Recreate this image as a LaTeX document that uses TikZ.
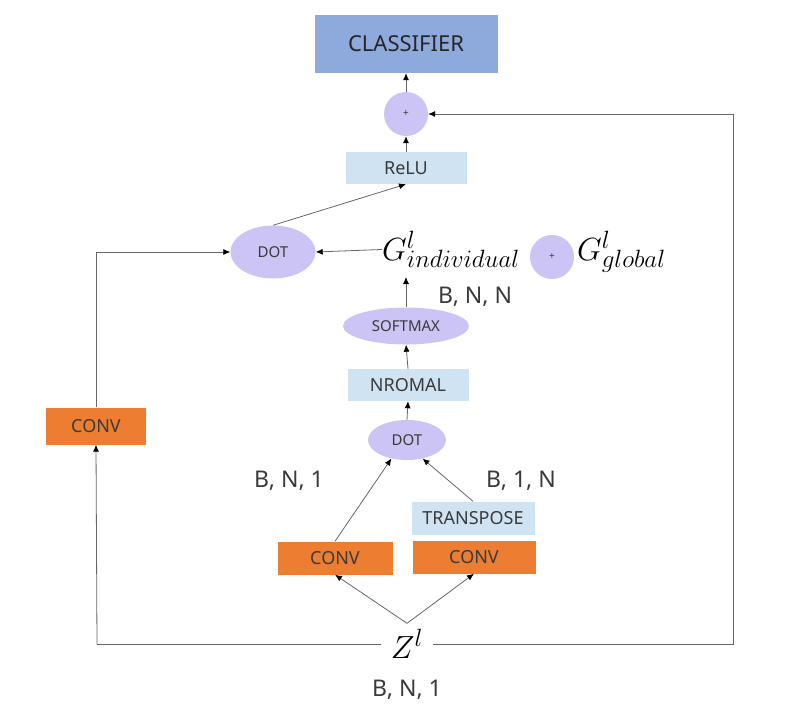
\RequirePackage{fix-cm}
\documentclass[tikz,border=0pt]{standalone}
\usepackage{fontspec}
\setmainfont{Noto Sans}
\usetikzlibrary{arrows.meta,positioning}
\usetikzlibrary{calc}
\usetikzlibrary{shapes.geometric}
\DeclareMathSizes{32}{32}{25}{20}

\definecolor{clsblue}{HTML}{8EA9DB}
\definecolor{lightblue}{HTML}{D0E3F3}
\definecolor{lavender}{HTML}{CBC4F5}
\definecolor{convorange}{HTML}{ED7D31}
\definecolor{txtgray}{HTML}{3A3A3A}
\definecolor{linegray}{HTML}{666666}

\begin{document}
\begin{tikzpicture}[x=1pt,y=-1pt,
      mybox/.style={
         rectangle,
         inner sep=0pt,
         text=txtgray,
         font=\fontsize{18}{20}\selectfont},
      convbox/.style={mybox, fill=convorange, minimum height=33pt},
      bluebox/.style={mybox, fill=lightblue, minimum height=32pt},
      myellipse/.style={
         ellipse,
         fill=lavender,
         inner sep=0pt,
         text=txtgray,
         font=\fontsize{15}{17}\selectfont},
      pluscircle/.style={
         circle,
         fill=lavender,
         minimum size=44pt,
         inner sep=0pt,
         text=txtgray,
         font=\fontsize{10}{12}\selectfont},
      dimlabel/.style={text=txtgray, font=\fontsize{23}{26}\selectfont},
      mathlabel/.style={inner sep=0pt, font=\fontsize{32}{36}\selectfont},
      myarrow/.style={-{Latex[length=7pt,width=6pt,color=black]}, draw=linegray, line width=0.8pt},
      myline/.style={draw=linegray, line width=0.8pt}
      ]
      \useasboundingbox (0,0) rectangle (809,723);

      \node[mybox, fill=clsblue, minimum width=183pt, minimum height=58pt,
            font=\fontsize{22}{24}\selectfont, text=black!85] (cls) at (406,44) {CLASSIFIER};
      \node[pluscircle] (plus1) at (406,114) {+};
      \node[bluebox, minimum width=121pt] (relu) at (406,168) {ReLU};
      \node[myellipse, minimum width=85pt, minimum height=53pt] (dot1) at (273,252) {DOT};
      \node[mathlabel, anchor=base west] (gind) at (382,260) {$G^{l}_{individual}$};
      \node[pluscircle] (plus2) at (552,257) {+};
      \node[mathlabel, anchor=base west] (gglb) at (577,260) {$G^{l}_{global}$};
      \node[dimlabel] (bnn) at (475,297) {B, N, N};
      \node[myellipse, minimum width=126pt, minimum height=37pt] (soft) at (406,326) {SOFTMAX};
      \node[bluebox, minimum width=121pt] (norm) at (408,385) {NROMAL};
      \node[myellipse, minimum width=78pt, minimum height=40pt] (dot2) at (407,440) {DOT};
      \node[dimlabel] (bn1) at (289,481) {B, N, 1};
      \node[dimlabel] (b1n) at (521,481) {B, 1, N};
      \node[bluebox, minimum width=123pt, minimum height=33pt] (trans) at (473,518) {TRANSPOSE};
      \node[convbox, minimum width=115pt] (conv1) at (335,558) {CONV};
      \node[convbox, minimum width=123pt] (conv2) at (474,557) {CONV};
      \node[convbox, minimum width=100pt, minimum height=37pt] (conv0) at (96,426) {CONV};
      \node[mathlabel, inner xsep=10pt, inner ysep=6pt] (z) at (407,644) {$Z^{l}$};
      \node[dimlabel] (bnz) at (407,690) {B, N, 1};

      \coordinate (gfoot) at (406,277);
      \coordinate (zleft) at (97,644);
      \coordinate (zright) at (733,644);

    \foreach \i/\j in {% from/to
      plus1.north/cls.south,
      relu.north/plus1.south,
      dot1.north/relu.south,
      gind.west/dot1.east,
      soft.north/gfoot,
      norm.north/soft.south,
      dot2.north/norm.south,
      conv1.north/dot2.230,
      trans.north/dot2.310,
      z.north/conv1.south,
      z.north/conv2.south}
       \draw[myarrow] (\i) -- (\j);

\draw[myline] (z.west) -- (zleft);
\draw[myarrow] (zleft) -- (conv0.south);
\draw[myarrow] (conv0.north) |- (dot1.west);
\draw[myarrow] (z.east) -- (zright) |- (plus1.east);

    \end{tikzpicture}
\end{document}
